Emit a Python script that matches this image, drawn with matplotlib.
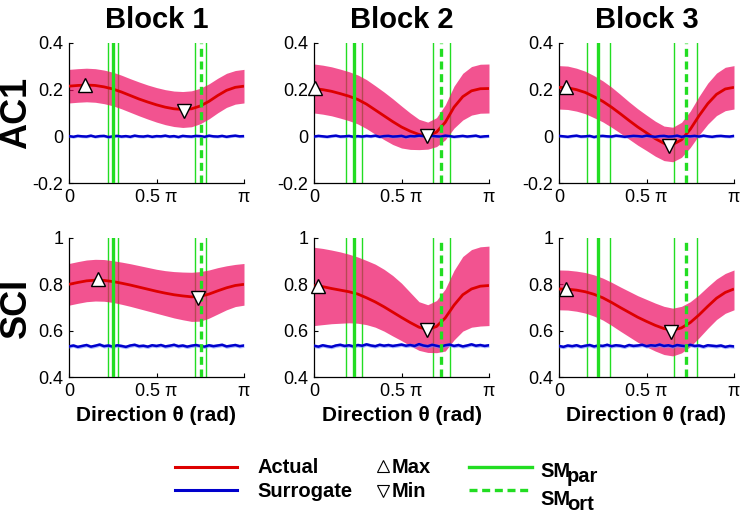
import numpy as np
import matplotlib
matplotlib.use("Agg")
import matplotlib.pyplot as plt

plt.rcParams['font.family'] = ['Liberation Sans', 'DejaVu Sans']

# ---------------- data ----------------
blocks = ["Block 1", "Block 2", "Block 3"]
measures = ["AC1", "SCI"]
theta_pi = [0.00, 0.05, 0.10, 0.15, 0.20, 0.25, 0.30, 0.35, 0.40, 0.45, 0.50,
            0.55, 0.60, 0.65, 0.70, 0.75, 0.80, 0.85, 0.90, 0.95, 1.00]

ac1_mean_b1 = [0.215, 0.218, 0.220, 0.218, 0.212, 0.203, 0.190, 0.175, 0.160, 0.147, 0.135,
               0.125, 0.118, 0.115, 0.118, 0.130, 0.150, 0.175, 0.197, 0.210, 0.215]
ac1_hi_b1 = [0.287, 0.290, 0.292, 0.290, 0.284, 0.275, 0.262, 0.247, 0.233, 0.220, 0.209,
             0.200, 0.194, 0.192, 0.195, 0.206, 0.225, 0.249, 0.270, 0.282, 0.287]
ac1_lo_b1 = [0.143, 0.146, 0.148, 0.146, 0.140, 0.131, 0.118, 0.103, 0.088, 0.074, 0.061,
             0.050, 0.042, 0.038, 0.041, 0.054, 0.075, 0.101, 0.124, 0.138, 0.143]

ac1_mean_b2 = [0.205, 0.200, 0.193, 0.183, 0.172, 0.158, 0.138, 0.113, 0.088, 0.063, 0.040,
               0.022, 0.008, 0.003, 0.018, 0.060, 0.125, 0.170, 0.195, 0.204, 0.205]
ac1_hi_b2 = [0.310, 0.305, 0.298, 0.288, 0.277, 0.263, 0.243, 0.217, 0.190, 0.161, 0.130,
             0.100, 0.073, 0.061, 0.080, 0.135, 0.215, 0.270, 0.299, 0.309, 0.310]
ac1_lo_b2 = [0.100, 0.095, 0.088, 0.078, 0.067, 0.053, 0.033, 0.009, -0.014, -0.035, -0.050,
             -0.056, -0.057, -0.055, -0.044, -0.015, 0.035, 0.070, 0.091, 0.099, 0.100]

ac1_mean_b3 = [0.210, 0.208, 0.200, 0.188, 0.170, 0.150, 0.125, 0.097, 0.068, 0.040, 0.015,
               -0.010, -0.030, -0.035, -0.015, 0.030, 0.088, 0.140, 0.180, 0.203, 0.210]
ac1_hi_b3 = [0.303, 0.301, 0.292, 0.279, 0.260, 0.238, 0.211, 0.180, 0.148, 0.118, 0.091,
             0.065, 0.044, 0.039, 0.060, 0.108, 0.171, 0.228, 0.271, 0.296, 0.303]
ac1_lo_b3 = [0.117, 0.115, 0.108, 0.097, 0.080, 0.062, 0.039, 0.014, -0.012, -0.038, -0.061,
             -0.085, -0.104, -0.109, -0.090, -0.048, 0.005, 0.052, 0.089, 0.110, 0.117]

sci_mean_b1 = [0.800, 0.808, 0.815, 0.818, 0.817, 0.812, 0.805, 0.797, 0.788, 0.779, 0.770,
               0.762, 0.755, 0.750, 0.746, 0.748, 0.758, 0.772, 0.785, 0.795, 0.800]
sci_hi_b1 = [0.890, 0.898, 0.905, 0.908, 0.907, 0.902, 0.896, 0.889, 0.881, 0.873, 0.865,
             0.859, 0.855, 0.853, 0.852, 0.855, 0.862, 0.872, 0.880, 0.886, 0.890]
sci_lo_b1 = [0.710, 0.718, 0.725, 0.728, 0.727, 0.722, 0.714, 0.705, 0.695, 0.685, 0.675,
             0.665, 0.655, 0.647, 0.640, 0.641, 0.654, 0.672, 0.690, 0.704, 0.710]

sci_mean_b2 = [0.795, 0.790, 0.782, 0.775, 0.768, 0.758, 0.742, 0.724, 0.703, 0.680, 0.657,
               0.635, 0.615, 0.605, 0.618, 0.655, 0.710, 0.755, 0.780, 0.792, 0.795]
sci_hi_b2 = [0.960, 0.955, 0.948, 0.940, 0.930, 0.918, 0.903, 0.887, 0.865, 0.838, 0.805,
             0.765, 0.725, 0.712, 0.730, 0.780, 0.860, 0.920, 0.950, 0.962, 0.965]
sci_lo_b2 = [0.622, 0.626, 0.630, 0.632, 0.634, 0.632, 0.626, 0.615, 0.598, 0.577, 0.557,
             0.535, 0.515, 0.506, 0.505, 0.512, 0.560, 0.598, 0.615, 0.620, 0.622]

sci_mean_b3 = [0.780, 0.779, 0.775, 0.768, 0.757, 0.742, 0.722, 0.700, 0.679, 0.658, 0.640,
               0.623, 0.609, 0.602, 0.612, 0.635, 0.668, 0.705, 0.740, 0.765, 0.780]
sci_hi_b3 = [0.862, 0.861, 0.857, 0.851, 0.841, 0.827, 0.809, 0.789, 0.770, 0.751, 0.735,
             0.719, 0.705, 0.697, 0.705, 0.725, 0.755, 0.790, 0.823, 0.847, 0.862]
sci_lo_b3 = [0.690, 0.689, 0.684, 0.676, 0.663, 0.646, 0.623, 0.598, 0.574, 0.550, 0.530,
             0.512, 0.497, 0.491, 0.504, 0.531, 0.569, 0.610, 0.648, 0.675, 0.690]

# surrogate (41 samples over 0..pi)
ac1_surr_b1 = [0.001, -0.002, 0.002, 0.000, -0.001, 0.003, -0.002, 0.001, 0.002, -0.003, 0.000,
               0.002, -0.001, 0.001, -0.002, 0.003, 0.000, -0.001, 0.002, -0.002, 0.001, 0.000,
               0.003, -0.001, 0.001, -0.003, 0.002, 0.000, -0.001, 0.002, 0.001, -0.002, 0.003,
               0.000, -0.001, 0.002, -0.002, 0.001, 0.003, 0.000, 0.001]
ac1_surr_b2 = [-0.001, 0.002, 0.000, -0.002, 0.001, 0.003, -0.001, 0.000, 0.002, -0.002, 0.001,
               -0.001, 0.002, 0.000, 0.003, -0.002, 0.001, 0.002, -0.001, 0.000, 0.002, -0.003,
               0.001, 0.000, 0.003, 0.001, -0.002, 0.002, 0.000, -0.001, 0.003, 0.001, -0.002,
               0.000, 0.002, -0.001, 0.001, 0.003, -0.002, 0.000, 0.001]
ac1_surr_b3 = [0.002, 0.000, -0.002, 0.001, 0.003, -0.001, 0.000, 0.002, -0.003, 0.001, 0.002,
               0.000, -0.001, 0.003, 0.001, -0.002, 0.000, 0.002, 0.001, -0.001, 0.003, 0.000,
               -0.002, 0.001, 0.002, -0.001, 0.000, 0.003, -0.002, 0.001, 0.000, 0.002, -0.001,
               0.003, 0.000, -0.002, 0.001, 0.002, 0.000, -0.001, 0.002]
sci_surr_b1 = [0.532, 0.536, 0.530, 0.534, 0.538, 0.531, 0.535, 0.540, 0.533, 0.536, 0.531,
               0.537, 0.534, 0.530, 0.536, 0.539, 0.533, 0.535, 0.531, 0.537, 0.534, 0.538,
               0.532, 0.535, 0.539, 0.533, 0.536, 0.531, 0.535, 0.538, 0.534, 0.531, 0.537,
               0.533, 0.536, 0.539, 0.532, 0.535, 0.538, 0.533, 0.536]
sci_surr_b2 = [0.535, 0.531, 0.537, 0.533, 0.530, 0.536, 0.539, 0.534, 0.537, 0.532, 0.538,
               0.535, 0.541, 0.536, 0.533, 0.539, 0.535, 0.538, 0.534, 0.537, 0.540, 0.535,
               0.538, 0.534, 0.542, 0.536, 0.533, 0.539, 0.535, 0.531, 0.537, 0.540, 0.534,
               0.538, 0.532, 0.536, 0.541, 0.535, 0.538, 0.534, 0.537]
sci_surr_b3 = [0.534, 0.530, 0.536, 0.533, 0.537, 0.531, 0.535, 0.538, 0.532, 0.536, 0.534,
               0.539, 0.533, 0.537, 0.535, 0.531, 0.538, 0.534, 0.536, 0.539, 0.533, 0.537,
               0.535, 0.540, 0.534, 0.537, 0.532, 0.538, 0.535, 0.533, 0.539, 0.534, 0.536,
               0.531, 0.537, 0.535, 0.533, 0.536, 0.530, 0.534, 0.532]
surr_sd = {"AC1": 0.006, "SCI": 0.008}

# markers (position in units of pi, value)
ac1_max = [(0.09, 0.222), (0.005, 0.208), (0.042, 0.213)]
ac1_min = [(0.655, 0.108), (0.646, 0.003), (0.630, -0.040)]
sci_max = [(0.167, 0.823), (0.025, 0.793), (0.042, 0.781)]
sci_min = [(0.737, 0.742), (0.646, 0.605), (0.640, 0.596)]

# sensorimotor directions (units of pi): centre, half-width of CI
sm_par = [0.252, 0.229, 0.224]
sm_ort = [0.752, 0.728, 0.724]
sm_ci = [0.030, 0.047, 0.065]

y_ticks = {"AC1": [-0.2, 0, 0.2, 0.4], "SCI": [0.4, 0.6, 0.8, 1.0]}
y_ticklabels = {"AC1": ["-0.2", "0", "0.2", "0.4"], "SCI": ["0.4", "0.6", "0.8", "1"]}
x_ticks_pi = [0, 0.5, 1]
x_ticklabels = ["0", "0.5 \u03c0", "\u03c0"]
xlabel = "Direction \u03b8 (rad)"

data = {
    "AC1": [(ac1_mean_b1, ac1_lo_b1, ac1_hi_b1, ac1_surr_b1),
            (ac1_mean_b2, ac1_lo_b2, ac1_hi_b2, ac1_surr_b2),
            (ac1_mean_b3, ac1_lo_b3, ac1_hi_b3, ac1_surr_b3)],
    "SCI": [(sci_mean_b1, sci_lo_b1, sci_hi_b1, sci_surr_b1),
            (sci_mean_b2, sci_lo_b2, sci_hi_b2, sci_surr_b2),
            (sci_mean_b3, sci_lo_b3, sci_hi_b3, sci_surr_b3)],
}
markers = {"AC1": (ac1_max, ac1_min), "SCI": (sci_max, sci_min)}

# ---------------- styling ----------------
W, H = 744, 516
fig = plt.figure(figsize=(W / 100, H / 100), dpi=100)

col_left = [69, 314, 559]
ax_w = 175
row_top = [43, 238]
ax_h = [140, 139]

RED = "#dd0000"
PINK = "#ee1166"
BLUE = "#0000cc"
LBLUE = "#7088ff"
GREEN = "#22dd22"

th = np.array(theta_pi) * np.pi

for r, meas in enumerate(measures):
    for c in range(3):
        ax = fig.add_axes([col_left[c] / W, 1 - (row_top[r] + ax_h[r]) / H, ax_w / W, ax_h[r] / H])
        mean, lo, hi, surr = data[meas][c]
        # CI lines (thin) under the band
        for centre in (sm_par[c], sm_ort[c]):
            for d in (-sm_ci[c], sm_ci[c]):
                ax.axvline((centre + d) * np.pi, color=GREEN, lw=1.0, zorder=1)
        ax.fill_between(th, lo, hi, color=PINK, alpha=0.72, lw=0, zorder=2)
        ax.plot(th, mean, color=RED, lw=2.0, zorder=3, solid_capstyle='butt')
        ths = np.linspace(0, np.pi, len(surr))
        s = np.array(surr)
        ax.fill_between(ths, s - surr_sd[meas], s + surr_sd[meas], color=LBLUE, alpha=0.6, lw=0, zorder=3)
        ax.plot(ths, s, color=BLUE, lw=1.8, zorder=3)
        ax.axvline(sm_par[c] * np.pi, color=GREEN, lw=2.4, zorder=4)
        ax.axvline(sm_ort[c] * np.pi, color=GREEN, lw=2.4, ls=(0, (2.4, 1.4)), zorder=4)
        mx, mn = markers[meas]
        ax.plot(mx[c][0] * np.pi, mx[c][1], marker='^', ms=10, mfc='white', mec='black', mew=1.0,
                ls='none', zorder=6, clip_on=False)
        ax.plot(mn[c][0] * np.pi, mn[c][1], marker='v', ms=10, mfc='white', mec='black', mew=1.0,
                ls='none', zorder=6, clip_on=False)

        ax.set_xlim(0, np.pi)
        ax.set_ylim(y_ticks[meas][0], y_ticks[meas][-1])
        ax.set_xticks(np.array(x_ticks_pi) * np.pi)
        ax.set_xticklabels(x_ticklabels)
        ax.set_yticks(y_ticks[meas])
        ax.set_yticklabels(y_ticklabels[meas])
        ax.tick_params(direction='in', length=3, width=0.8, labelsize=13, pad=4)
        for sp in ("top", "right"):
            ax.spines[sp].set_visible(False)
        for sp in ("left", "bottom"):
            ax.spines[sp].set_linewidth(0.9)
        if r == 0:
            ax.set_title(blocks[c], fontsize=21, fontweight='bold', pad=11)
        else:
            ax.set_xlabel(xlabel, fontsize=15, fontweight='bold', labelpad=5)
        if c == 0:
            ax.set_ylabel(meas, fontsize=26, fontweight='bold')
            ax.yaxis.set_label_coords(-0.20, 0.5)

# ---------------- legend (figure overlay) ----------------
lg = fig.add_axes([0, 0, 1, 1])
lg.set_xlim(0, W)
lg.set_ylim(H, 0)
lg.axis('off')
row_y = [467, 490]          # sample line rows
base_y = [473, 497]         # text baselines
fs = 14.5
line_x = (175, 237)
lg.plot(line_x, [row_y[0]] * 2, color=RED, lw=2.2)
lg.plot(line_x, [row_y[1]] * 2, color=BLUE, lw=2.2)
lg.text(257, base_y[0], "Actual", fontsize=fs, fontweight='bold', va='baseline', ha='left')
lg.text(257, base_y[1], "Surrogate", fontsize=fs, fontweight='bold', va='baseline', ha='left')
lg.plot(383, row_y[0] - 1, marker='^', ms=9, mfc='white', mec='black', mew=0.8)
lg.plot(383, row_y[1] + 1, marker='v', ms=9, mfc='white', mec='black', mew=0.8)
lg.text(392, base_y[0], "Max", fontsize=fs, fontweight='bold', va='baseline', ha='left')
lg.text(392, base_y[1], "Min", fontsize=fs, fontweight='bold', va='baseline', ha='left')
gline_x = (469, 532)
lg.plot(gline_x, [row_y[0]] * 2, color=GREEN, lw=2.4)
lg.plot(gline_x, [row_y[1]] * 2, color=GREEN, lw=2.4, ls=(0, (2.4, 1.4)))
for yb, sub in zip([477, 505], ["par", "ort"]):
    lg.text(540, yb, "SM", fontsize=fs, fontweight='bold', va='baseline', ha='left')
    lg.text(567, yb + 5, sub, fontsize=fs, fontweight='bold', va='baseline', ha='left')

fig.savefig("out.png", dpi=100)
